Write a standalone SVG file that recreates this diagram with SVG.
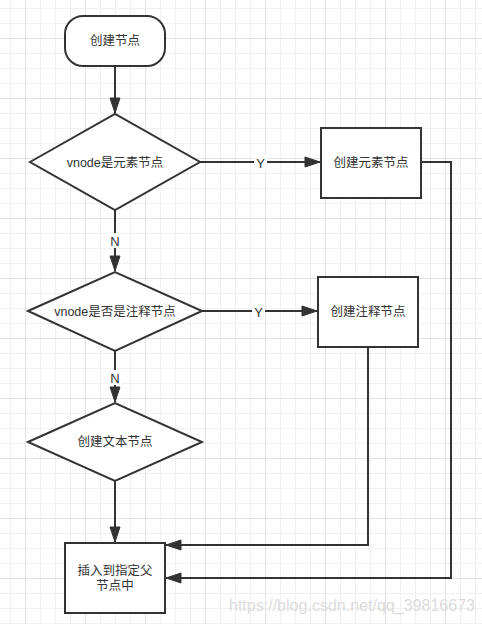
<svg xmlns="http://www.w3.org/2000/svg" width="482" height="624" viewBox="0 0 482 624">
<style>
.shape{fill:#ffffff;stroke:#333333;stroke-width:2}
.t{font-family:'Liberation Sans','Noto Sans CJK SC',sans-serif;font-size:12.5px;fill:#333333;text-anchor:middle;dominant-baseline:central}
.edge{fill:none;stroke:#333333;stroke-width:2}
.lbl{font-family:'Liberation Sans','Noto Sans CJK SC',sans-serif;font-size:13px;fill:#333333;text-anchor:middle;dominant-baseline:central}
.wm{font-family:'Liberation Sans',Arial,sans-serif;font-size:16px;fill:#dcdcdc}
</style>
<defs>
<pattern id="grid" patternUnits="userSpaceOnUse" x="10" y="8" width="60" height="60">
<path d="M0.5 0V60M30.5 0V60M45.5 0V60M0 0.5H60M0 15.5H60M0 45.5H60" stroke="#f0f0f0" stroke-width="1" fill="none"/>
<path d="M15.5 0V60M0 30.5H60" stroke="#e3e3e3" stroke-width="1" fill="none"/>
</pattern>
<marker id="arr" markerUnits="userSpaceOnUse" markerWidth="18" markerHeight="14" refX="16" refY="7" orient="auto">
<path d="M1 2L16 7L1 12Z" fill="#333333" stroke="#333333" stroke-width="1"/>
</marker>
</defs>
<rect x="0" y="0" width="482" height="624" fill="#ffffff"/>
<rect x="0" y="0" width="482" height="624" fill="url(#grid)"/>

<g id="connectors">
<path class="edge" d="M115 66V113" marker-end="url(#arr)"/>
<path class="edge" d="M200 162H320" marker-end="url(#arr)"/>
<path class="edge" d="M421 162H451V578H166" marker-end="url(#arr)"/>
<path class="edge" d="M115 210V271" marker-end="url(#arr)"/>
<path class="edge" d="M202 311H317" marker-end="url(#arr)"/>
<path class="edge" d="M368 347V545H166" marker-end="url(#arr)"/>
<path class="edge" d="M115 351V402" marker-end="url(#arr)"/>
<path class="edge" d="M115 481V542" marker-end="url(#arr)"/>
<rect x="254" y="155" width="13" height="15" fill="#ffffff"/>
<text class="lbl" x="260.5" y="163">Y</text>
<rect x="252" y="304" width="13" height="15" fill="#ffffff"/>
<text class="lbl" x="258.5" y="312">Y</text>
<rect x="108" y="233" width="14" height="15" fill="#ffffff"/>
<text class="lbl" x="115" y="241">N</text>
<rect x="108" y="370" width="14" height="15" fill="#ffffff"/>
<text class="lbl" x="115" y="378">N</text>
</g>

<g id="start">
<rect class="shape" x="65" y="16" width="100" height="50" rx="18" ry="18"/>
<text class="t" x="115" y="41">创建节点</text>
</g>
<g id="isElement">
<polygon class="shape" points="30,162 115,114 200,162 115,210"/>
<text class="t" x="115" y="163">vnode是元素节点</text>
</g>
<g id="createElement">
<rect class="shape" x="321" y="128" width="100" height="70"/>
<text class="t" x="371" y="163">创建元素节点</text>
</g>
<g id="isComment">
<polygon class="shape" points="28,311 115,272 202,311 115,351"/>
<text class="t" x="115" y="311.5">vnode是否是注释节点</text>
</g>
<g id="createComment">
<rect class="shape" x="318" y="277" width="100" height="70"/>
<text class="t" x="368" y="312">创建注释节点</text>
</g>
<g id="createText">
<polygon class="shape" points="28,442 115,403 202,442 115,481"/>
<text class="t" x="115" y="442">创建文本节点</text>
</g>
<g id="insert">
<rect class="shape" x="65" y="543" width="100" height="70"/>
<text class="t" x="115" y="571">插入到指定父</text>
<text class="t" x="115" y="586">节点中</text>
</g>
<text class="wm" x="229" y="611" textLength="246" lengthAdjust="spacingAndGlyphs">https://blog.csdn.net/qq_39816673</text>
</svg>
